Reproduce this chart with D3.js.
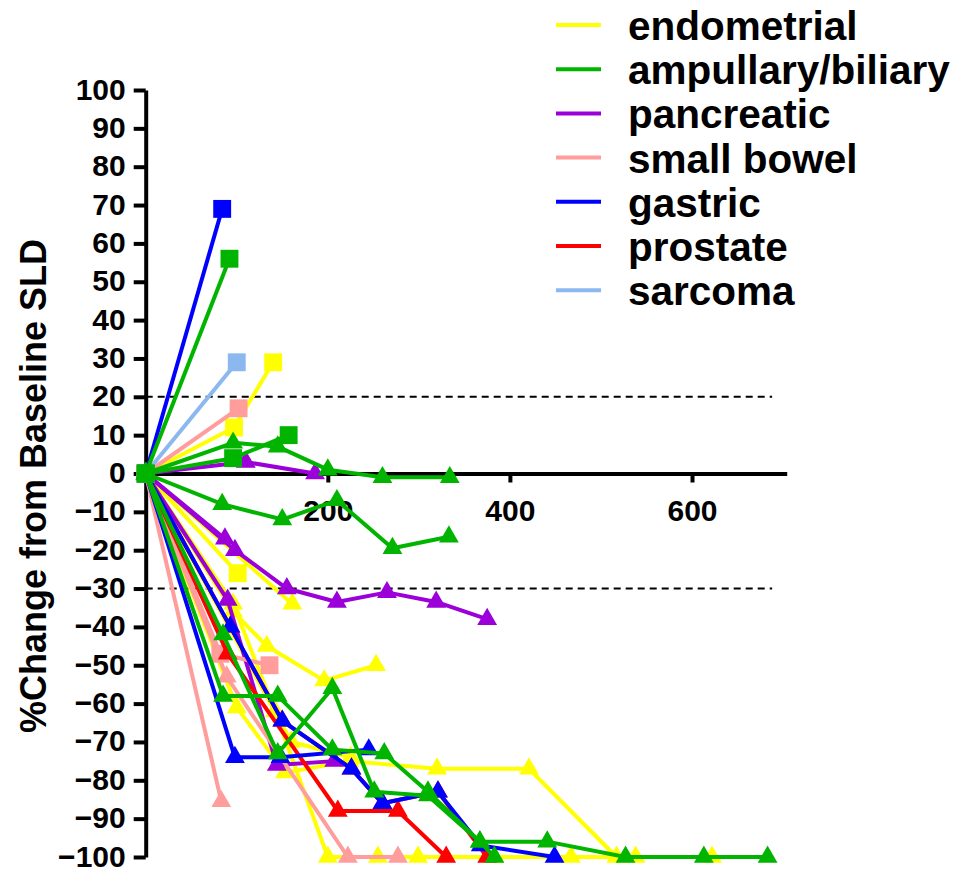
<!DOCTYPE html>
<html>
<head>
<meta charset="utf-8">
<script src="https://cdn.jsdelivr.net/npm/d3@7.9.0/dist/d3.min.js"></script>
<style>
  body { margin: 0; background: #fff; }
  text { font-family: Arial, "Liberation Sans", sans-serif; font-weight: bold; fill: #000; }
</style>
</head>
<body>
<svg id="chart" width="971" height="869"></svg>
<script>
// legend categories and their colours
const cancerTypes = ['endometrial', 'ampullary/biliary', 'pancreatic', 'small bowel', 'gastric', 'prostate', 'sarcoma'];
const typeColors = ['#ffff00', '#00b400', '#9b00d8', '#ff9d9d', '#0000ff', '#ff0000', '#8cb8f0'];

const yTicks = [-100, -90, -80, -70, -60, -50, -40, -30, -20, -10, 0, 10, 20, 30, 40, 50, 60, 70, 80, 90, 100];
const xTicks = [200, 400, 600];
const thresholds = [20, -30];

// each patient: list of [day, % change]; squares = progressed patients
const endometrialSquares = [
  [[0, 0], [97, 12], [140, 29]],
  [[0, 0], [101, -26]]
];
const endometrialTriangles = [
  [[0, 0], [161, -34]],
  [[0, 0], [96, -36], [133, -45], [196, -54], [253, -50]],
  [[0, 0], [160, -70], [225, -74]],
  [[0, 0], [100, -61], [153, -78], [224, -75], [320, -77], [421, -77], [517, -100]],
  [[0, 0], [96, -34], [142, -62], [200, -100], [255, -100], [299, -100], [383, -100], [467, -100], [538, -100], [622, -100]]
];
const ampullarySquares = [
  [[0, 0], [92, 56]],
  [[0, 0], [96, 4], [157, 10]]
];
const ampullaryTriangles = [
  [[0, 0], [96, 8], [145, 7], [200, 1], [260, -1], [334, -1]],
  [[0, 0], [84, -8], [150, -12], [210, -7], [271, -19.5], [333, -16.5]],
  [[0, 0], [85, -42], [145, -73], [205, -56], [251, -83], [310, -84], [367, -96], [383, -100]],
  [[0, 0], [85, -58], [145, -58], [205, -72], [262, -73], [310, -83], [367, -96], [441, -96], [527, -100], [613, -100], [683, -100]]
];
const pancreaticTriangles = [
  [[0, 0], [110, 3], [186, 0]],
  [[0, 0], [98, -20], [155, -30], [210, -33.5], [265, -31], [319, -33.5], [375, -38]],
  [[0, 0], [87, -17]],
  [[0, 0], [90, -33], [144, -76], [207, -75]]
];
const smallBowelSquares = [
  [[0, 0], [102, 17]],
  [[0, 0], [82, -47], [136, -50]]
];
const smallBowelTriangles = [
  [[0, 0], [83, -85.5]],
  [[0, 0], [89, -53], [222, -100], [277, -100]]
];
const gastricSquares = [
  [[0, 0], [84, 69]]
];
const gastricTriangles = [
  [[0, 0], [93, -40], [150, -64.5], [226, -77], [260, -86], [321, -83], [368, -97], [449, -100]],
  [[0, 0], [98, -74], [148, -74], [245, -72]]
];
const prostateTriangles = [
  [[0, 0], [93, -40], [150, -64.5], [226, -77], [260, -86], [321, -83], [375, -100]],
  [[0, 0], [90, -47], [211, -88], [277, -88], [330, -100]]
];
const sarcomaSquares = [
  [[0, 0], [100, 29]]
];

const patients = [];
function addPatients(type, shape, list) {
  list.forEach((pts) => patients.push({ type, shape, pts }));
}
addPatients('endometrial', 'triangle', endometrialTriangles);
addPatients('endometrial', 'square', endometrialSquares);
addPatients('pancreatic', 'triangle', pancreaticTriangles);
addPatients('small bowel', 'triangle', smallBowelTriangles);
addPatients('small bowel', 'square', smallBowelSquares);
addPatients('prostate', 'triangle', prostateTriangles);
addPatients('gastric', 'triangle', gastricTriangles);
addPatients('gastric', 'square', gastricSquares);
addPatients('sarcoma', 'square', sarcomaSquares);
addPatients('ampullary/biliary', 'triangle', ampullaryTriangles);
addPatients('ampullary/biliary', 'square', ampullarySquares);

const color = d3.scaleOrdinal().domain(cancerTypes).range(typeColors);

const svg = d3.select('#chart');
const x = d3.scaleLinear().domain([0, 704]).range([145.7, 786.7]);
const y = d3.scaleLinear().domain([-100, 100]).range([857, 90]);

// dashed reference lines
svg.selectAll('line.ref')
  .data(thresholds)
  .enter()
  .append('line')
  .attr('class', 'ref')
  .attr('x1', x(0)).attr('x2', x(688))
  .attr('y1', (d) => y(d)).attr('y2', (d) => y(d))
  .attr('stroke', '#000')
  .attr('stroke-width', 2)
  .attr('stroke-dasharray', '7,5');

// axes
const yAxis = svg.append('g')
  .attr('transform', `translate(${x(0)},0)`)
  .call(d3.axisLeft(y).tickValues(yTicks).tickSize(12).tickSizeOuter(0).tickPadding(8));
const xAxis = svg.append('g')
  .attr('transform', `translate(0,${y(0)})`)
  .call(d3.axisBottom(x).tickValues(xTicks).tickSize(9).tickSizeOuter(0).tickPadding(17));

[yAxis, xAxis].forEach((g) => {
  g.select('.domain').attr('stroke-width', 4);
  g.selectAll('.tick line').attr('stroke-width', 4);
  g.selectAll('.tick text')
    .style('font-size', '30px')
    .style('font-family', 'Arial, "Liberation Sans", sans-serif')
    .style('font-weight', 'bold');
});
yAxis.selectAll('.tick text').attr('dy', '0.3em');

svg.append('text')
  .attr('transform', `translate(46,486) rotate(-90)`)
  .attr('text-anchor', 'middle')
  .style('font-size', '36px')
  .text('%Change from Baseline SLD');

// patient lines and symbols
const line = d3.line().x((d) => x(d[0])).y((d) => y(d[1]));
const squareSym = d3.symbol().type(d3.symbolSquare).size(320);
const triSym = d3.symbol().type(d3.symbolTriangle).size(170);

const groups = svg.selectAll('g.patient')
  .data(patients)
  .enter()
  .append('g')
  .attr('class', 'patient');

groups.append('path')
  .attr('d', (d) => line(d.pts))
  .attr('fill', 'none')
  .attr('stroke', (d) => color(d.type))
  .attr('stroke-width', 4)
  .attr('stroke-linejoin', 'round');

groups.each(function(p) {
  d3.select(this).selectAll('path.sym')
    .data(p.pts)
    .enter()
    .append('path')
    .attr('class', 'sym')
    .attr('transform', (d) => `translate(${x(d[0])},${y(d[1])})`)
    .attr('d', p.shape === 'square' ? squareSym : triSym)
    .attr('fill', color(p.type));
});

// legend
const legend = svg.append('g');
cancerTypes.forEach((t, i) => {
  const ly = 25 + i * 44.2;
  legend.append('line')
    .attr('x1', 556).attr('x2', 601)
    .attr('y1', ly).attr('y2', ly)
    .attr('stroke', color(t))
    .attr('stroke-width', 4);
  legend.append('text')
    .attr('x', 628).attr('y', ly + 15)
    .style('font-size', '40.5px')
    .text(t);
});
</script>
</body>
</html>
